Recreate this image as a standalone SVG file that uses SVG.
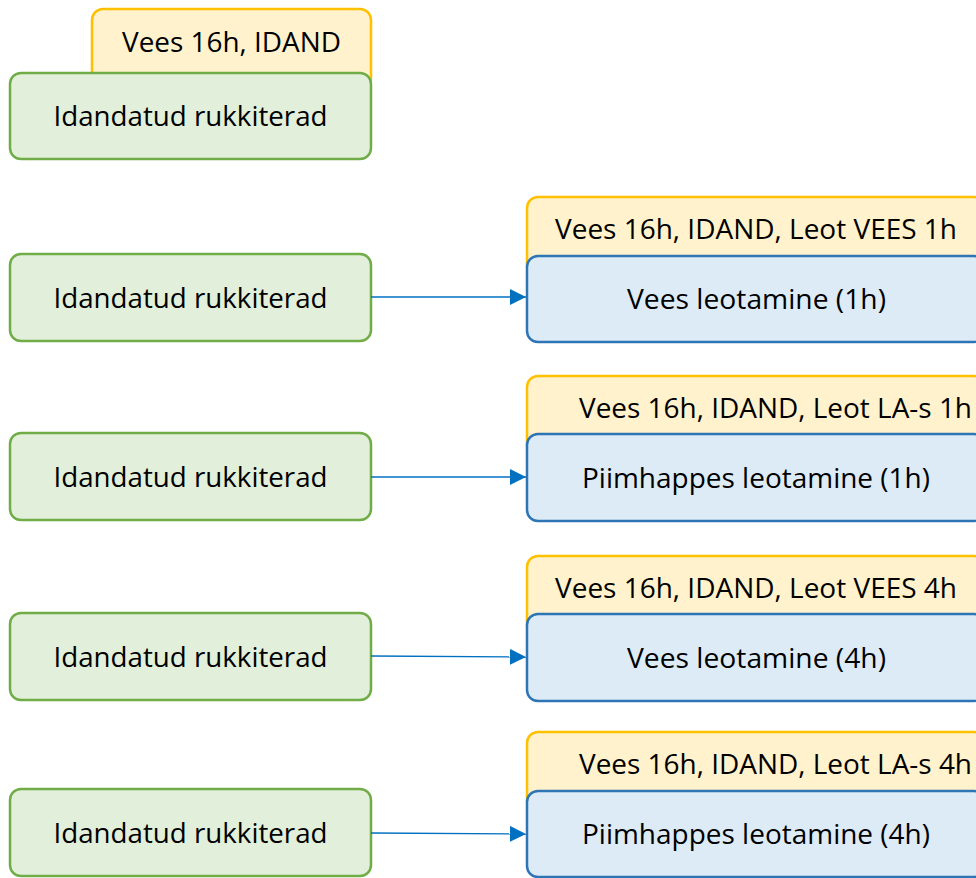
<svg xmlns="http://www.w3.org/2000/svg" width="976" height="878" viewBox="0 0 976 878">
<defs>
<style>
.g{fill:#e2efda;stroke:#70ad47;stroke-width:2.5}
.y{fill:#fff2cc;stroke:#ffc000;stroke-width:2.5}
.b{fill:#ddebf7;stroke:#2e75b6;stroke-width:2.5}
text{font-family:"Open Sans","Liberation Sans",sans-serif;font-size:27px;fill:#000;text-anchor:middle}
.c{stroke:#0070c0;stroke-width:1.3;fill:none;marker-end:url(#a)}
</style>
<marker id="a" viewBox="0 0 10 10" refX="10" refY="5" markerWidth="16" markerHeight="16" markerUnits="userSpaceOnUse" orient="auto">
<path d="M0,0 L10,5 L0,10 z" fill="#0070c0"/>
</marker>
</defs>
<rect width="976" height="878" fill="#fff"/>
<g id="n1">
<rect class="y" x="92" y="9" width="279" height="80" rx="11"/>
<text x="231.5" y="52" textLength="219" lengthAdjust="spacingAndGlyphs">Vees 16h, IDAND</text>
<rect class="g" x="10" y="73" width="361" height="86" rx="11"/>
<text x="190.5" y="126" textLength="274" lengthAdjust="spacingAndGlyphs">Idandatud rukkiterad</text>
</g>
<g id="n2">
<rect class="g" x="10" y="254" width="361" height="87" rx="11"/>
<text x="190.5" y="308" textLength="274" lengthAdjust="spacingAndGlyphs">Idandatud rukkiterad</text>
</g>
<g id="n3">
<rect class="y" x="527" y="197" width="458" height="80" rx="11"/>
<text x="756" y="239" textLength="402" lengthAdjust="spacingAndGlyphs">Vees 16h, IDAND, Leot VEES 1h</text>
<rect class="b" x="527" y="256" width="458" height="86" rx="11"/>
<text x="756.5" y="309" textLength="259" lengthAdjust="spacingAndGlyphs">Vees leotamine (1h)</text>
</g>
<g id="n4">
<rect class="g" x="10" y="433" width="361" height="87" rx="11"/>
<text x="190.5" y="487" textLength="274" lengthAdjust="spacingAndGlyphs">Idandatud rukkiterad</text>
</g>
<g id="n5">
<rect class="y" x="527" y="376" width="458" height="80" rx="11"/>
<text x="775.5" y="418" textLength="393" lengthAdjust="spacingAndGlyphs">Vees 16h, IDAND, Leot LA-s 1h</text>
<rect class="b" x="527" y="434" width="458" height="87" rx="11"/>
<text x="756" y="488" textLength="348" lengthAdjust="spacingAndGlyphs">Piimhappes leotamine (1h)</text>
</g>
<g id="n6">
<rect class="g" x="10" y="613" width="361" height="87" rx="11"/>
<text x="190.5" y="667" textLength="274" lengthAdjust="spacingAndGlyphs">Idandatud rukkiterad</text>
</g>
<g id="n7">
<rect class="y" x="527" y="556" width="458" height="80" rx="11"/>
<text x="756" y="598" textLength="402" lengthAdjust="spacingAndGlyphs">Vees 16h, IDAND, Leot VEES 4h</text>
<rect class="b" x="527" y="614" width="458" height="87" rx="11"/>
<text x="756.5" y="668" textLength="259" lengthAdjust="spacingAndGlyphs">Vees leotamine (4h)</text>
</g>
<g id="n8">
<rect class="g" x="10" y="789" width="361" height="87" rx="11"/>
<text x="190.5" y="843" textLength="274" lengthAdjust="spacingAndGlyphs">Idandatud rukkiterad</text>
</g>
<g id="n9">
<rect class="y" x="527" y="732" width="458" height="80" rx="11"/>
<text x="775.5" y="774" textLength="393" lengthAdjust="spacingAndGlyphs">Vees 16h, IDAND, Leot LA-s 4h</text>
<rect class="b" x="527" y="791" width="458" height="86" rx="11"/>
<text x="756" y="844" textLength="348" lengthAdjust="spacingAndGlyphs">Piimhappes leotamine (4h)</text>
</g>
<g id="connectors">
<line class="c" x1="371" y1="297" x2="526" y2="297"/>
<line class="c" x1="371" y1="477" x2="526" y2="477"/>
<line class="c" x1="371" y1="656" x2="526" y2="657"/>
<line class="c" x1="371" y1="833" x2="526" y2="834"/>
</g>
</svg>
